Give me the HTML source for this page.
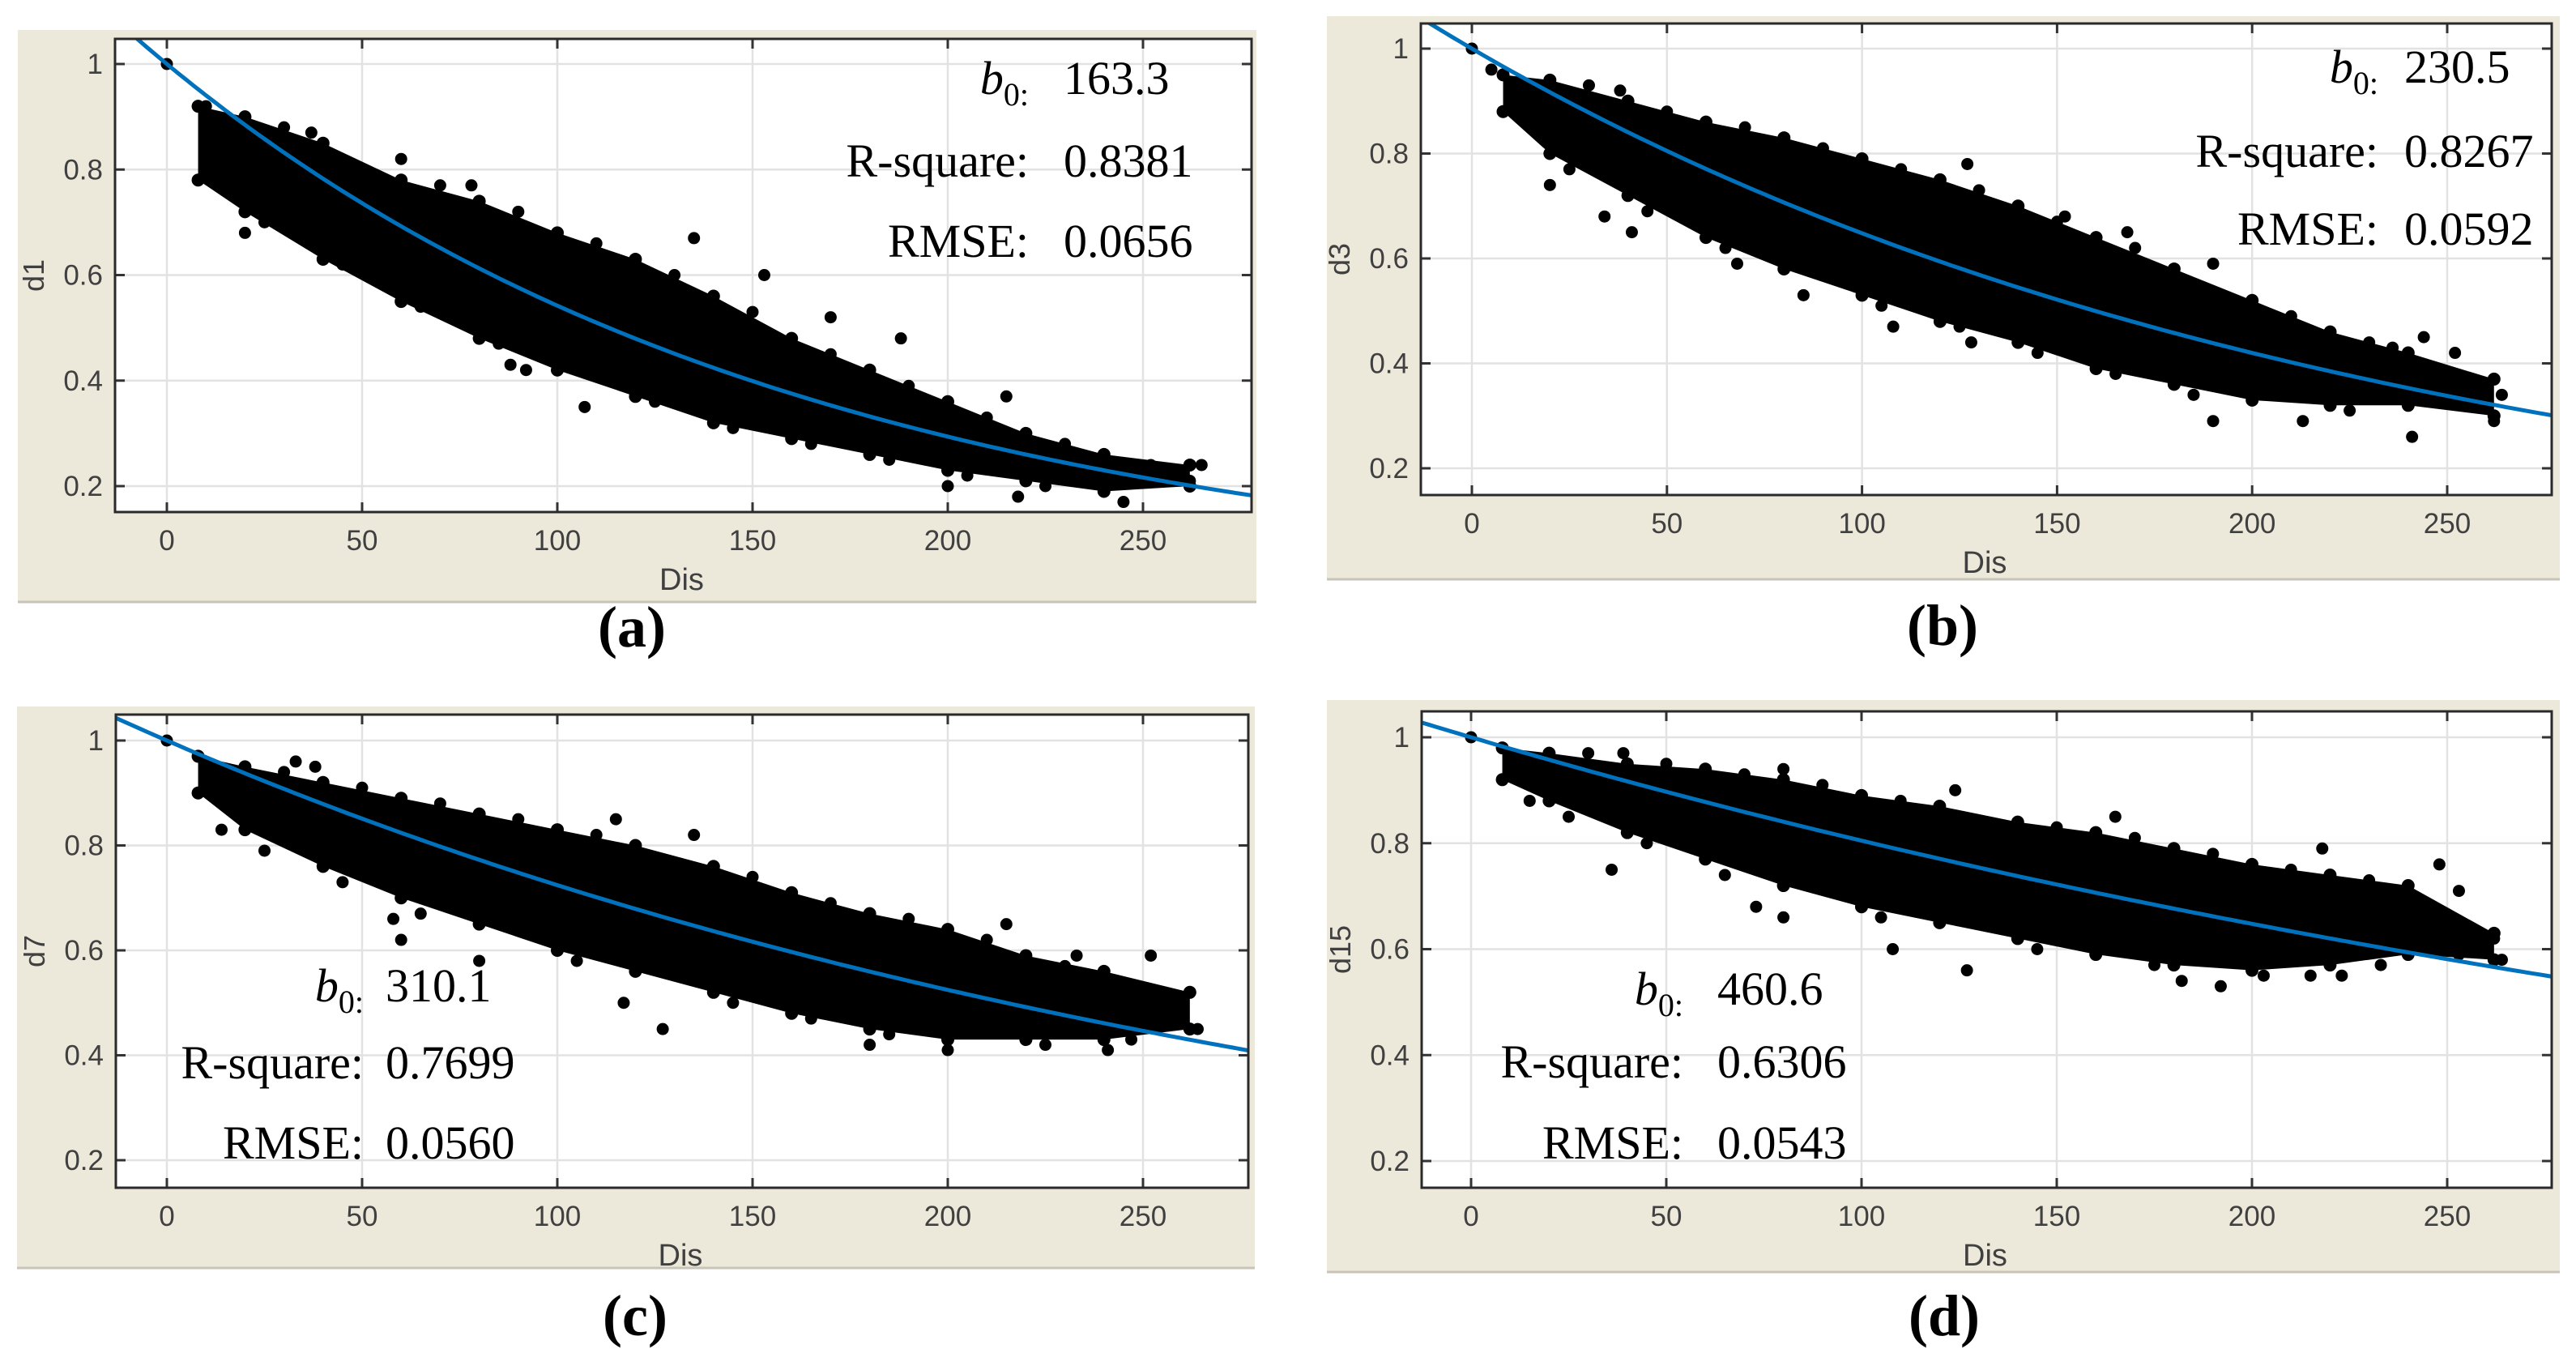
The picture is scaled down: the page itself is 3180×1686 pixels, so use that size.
<!DOCTYPE html>
<html><head><meta charset="utf-8"><style>
html,body{margin:0;padding:0;background:#fff;}
svg{display:block;}
</style></head><body>
<svg id="fig" xmlns="http://www.w3.org/2000/svg" width="3180" height="1686" viewBox="0 0 3180 1686"></svg>
<script>
// ---- data ----
const xTicks = [0, 50, 100, 150, 200, 250];
const yTicks = [0.2, 0.4, 0.6, 0.8, 1];
const yTickLabels = ["0.2", "0.4", "0.6", "0.8", "1"];
const bandX = [8, 20, 40, 60, 80, 100, 120, 140, 160, 180, 200, 220, 240, 262];
const lowA = [0.78,0.72,0.63,0.55,0.48,0.42,0.37,0.32,0.29,0.26,0.23,0.21,0.19,0.20];
const upA  = [0.92,0.90,0.85,0.78,0.74,0.68,0.63,0.56,0.48,0.42,0.36,0.30,0.26,0.24];
const lowB = [0.88,0.80,0.72,0.64,0.58,0.53,0.48,0.44,0.39,0.36,0.33,0.32,0.32,0.30];
const upB  = [0.95,0.94,0.90,0.86,0.83,0.79,0.75,0.70,0.64,0.58,0.52,0.46,0.42,0.37];
const lowC = [0.90,0.83,0.76,0.70,0.65,0.60,0.56,0.52,0.48,0.45,0.43,0.43,0.43,0.45];
const upC  = [0.97,0.95,0.92,0.89,0.86,0.83,0.80,0.76,0.71,0.67,0.64,0.59,0.56,0.52];
const lowD = [0.92,0.88,0.82,0.77,0.72,0.68,0.65,0.62,0.59,0.57,0.56,0.57,0.59,0.58];
const upD  = [0.98,0.97,0.95,0.94,0.92,0.89,0.87,0.84,0.82,0.79,0.76,0.74,0.72,0.63];
const outXA = [0,10,12,20,37,60,78,88,92,107,135,153,170,188,200,218,245,252,262,265,215,30,50,70,90,110,130,150,170,190,210,230,25,45,65,85,125,145,165,185,205,225];
const outYA = [1,0.92,0.85,0.68,0.87,0.82,0.77,0.43,0.42,0.35,0.67,0.60,0.52,0.48,0.20,0.18,0.17,0.24,0.21,0.24,0.37,0.88,0.80,0.77,0.72,0.66,0.60,0.53,0.45,0.39,0.33,0.28,0.70,0.62,0.54,0.47,0.36,0.31,0.28,0.25,0.22,0.20];
const outXB = [0,5,20,34,38,41,68,85,108,128,127,152,168,190,213,241,244,252,262,264,236,190,30,50,70,90,110,130,150,170,210,230,25,45,65,105,125,145,165,185,225];
const outYB = [1,0.96,0.74,0.68,0.92,0.65,0.59,0.53,0.47,0.44,0.78,0.68,0.65,0.29,0.29,0.26,0.45,0.42,0.29,0.34,0.43,0.59,0.93,0.88,0.85,0.81,0.77,0.73,0.67,0.62,0.49,0.44,0.77,0.69,0.62,0.51,0.47,0.42,0.38,0.34,0.31];
const outXC = [0,8,14,33,38,58,60,80,115,117,127,135,180,200,215,233,241,252,262,264,247,30,50,70,90,110,150,170,190,210,230,25,45,65,105,145,165,185,225];
const outYC = [1,0.97,0.83,0.96,0.95,0.66,0.62,0.58,0.85,0.50,0.45,0.82,0.42,0.41,0.65,0.59,0.41,0.59,0.52,0.45,0.43,0.94,0.91,0.88,0.85,0.82,0.74,0.69,0.66,0.62,0.57,0.79,0.73,0.67,0.58,0.50,0.47,0.44,0.42];
const outXD = [0,8,15,36,39,73,80,80,108,124,127,165,182,192,203,218,223,233,248,253,253,262,264,30,50,70,90,110,150,170,190,210,230,25,45,65,105,145,175,215,245];
const outYD = [1,0.92,0.88,0.75,0.97,0.68,0.66,0.94,0.60,0.90,0.56,0.85,0.54,0.53,0.55,0.79,0.55,0.57,0.76,0.71,0.59,0.62,0.58,0.97,0.95,0.93,0.91,0.88,0.83,0.81,0.78,0.75,0.73,0.85,0.80,0.74,0.66,0.60,0.57,0.55,0.60];
const b0Values = [163.3, 230.5, 310.1, 460.6];
const rsqLabels = ["0.8381", "0.8267", "0.7699", "0.6306"];
const rmseLabels = ["0.0656", "0.0592", "0.0560", "0.0543"];
const b0Labels = ["163.3", "230.5", "310.1", "460.6"];
const yNames = ["d1", "d3", "d7", "d15"];
const panelLetters = ["(a)", "(b)", "(c)", "(d)"];

// ---- layout ----
const panels = [
 {bg:[22,37,1551,744], L:142,R:1545,T:48,B:632, y1:79,y02:600, x0:206,x250:1411, low:lowA,up:upA,ox:outXA,oy:outYA, st:{rx:1270,vx:1313,ys:[116,218,317]}, lab:[780,798]},
 {bg:[1638,20,3160,716], L:1754,R:3150,T:29,B:611, y1:60,y02:578, x0:1817,x250:3021, low:lowB,up:upB,ox:outXB,oy:outYB, st:{rx:2936,vx:2968,ys:[102,206,302]}, lab:[2398,796]},
 {bg:[21,872,1549,1566], L:143,R:1541,T:882,B:1466, y1:914,y02:1432, x0:206,x250:1411, low:lowC,up:upC,ox:outXC,oy:outYC, st:{rx:449,vx:476,ys:[1236,1331,1430]}, lab:[784,1648]},
 {bg:[1638,864,3160,1571], L:1755,R:3150,T:878,B:1466, y1:910,y02:1433, x0:1816,x250:3021, low:lowD,up:upD,ox:outXD,oy:outYD, st:{rx:2078,vx:2120,ys:[1240,1330,1430]}, lab:[2400,1648]}
];
const NS = "http://www.w3.org/2000/svg";
const svg = document.getElementById("fig");
function mk(tag, attrs, parent){
  const e = document.createElementNS(NS, tag);
  for (const k in attrs) e.setAttribute(k, attrs[k]);
  (parent||svg).appendChild(e);
  return e;
}
panels.forEach((p, i) => {
  const sx = v => p.x0 + (v/250)*(p.x250 - p.x0);
  const sy = v => p.y1 + (1 - v)/0.8*(p.y02 - p.y1);
  const g = mk("g", {});
  
  
  const bg = mk("rect", {x:p.bg[0], y:p.bg[1], width:p.bg[2]-p.bg[0], height:p.bg[3]-p.bg[1], fill:"#ece8da"}, g);
  
  
  mk("line", {x1:p.bg[0], y1:p.bg[3]-1, x2:p.bg[2], y2:p.bg[3]-1, stroke:"#c8c4b8", "stroke-width":3}, g);
  const area = mk("rect", {x:p.L, y:p.T, width:p.R-p.L, height:p.B-p.T, fill:"#fff"}, g);
  
  
  const cid = "clip" + i;
  const cp = mk("clipPath", {id:cid}, g);
  mk("rect", {x:p.L, y:p.T, width:p.R-p.L, height:p.B-p.T}, cp);
  xTicks.forEach(t => {
    const x = sx(t);
    const gl = mk("line", {x1:x, y1:p.T, x2:x, y2:p.B, stroke:"#e2e2e2", "stroke-width":2.5}, g);
    
    
    mk("line", {x1:x, y1:p.B, x2:x, y2:p.B-12, stroke:"#333", "stroke-width":3}, g);
    mk("line", {x1:x, y1:p.T, x2:x, y2:p.T+12, stroke:"#333", "stroke-width":3}, g);
    const tl = mk("text", {x:x, y:p.B+47, "text-anchor":"middle", "font-family":"Liberation Sans, sans-serif", "font-size":35, fill:"#404040"}, g);
    tl.textContent = t;
    
    
  });
  yTicks.forEach((t, k) => {
    const y = sy(t);
    const gl = mk("line", {x1:p.L, y1:y, x2:p.R, y2:y, stroke:"#e2e2e2", "stroke-width":2.5}, g);
    
    
    mk("line", {x1:p.L, y1:y, x2:p.L+12, y2:y, stroke:"#333", "stroke-width":3}, g);
    mk("line", {x1:p.R, y1:y, x2:p.R-12, y2:y, stroke:"#333", "stroke-width":3}, g);
    const tl = mk("text", {x:p.L-15, y:y+12, "text-anchor":"end", "font-family":"Liberation Sans, sans-serif", "font-size":35, fill:"#404040"}, g);
    tl.textContent = yTickLabels[k];
    
    
  });
  const dg = mk("g", {"clip-path":"url(#"+cid+")"}, g);
  
  
  let pts = [];
  bandX.forEach((x, k) => pts.push(sx(x)+","+sy(p.up[k])));
  for (let k = bandX.length-1; k >= 0; k--) pts.push(sx(bandX[k])+","+sy(p.low[k]));
  const band = mk("polygon", {points:pts.join(" "), fill:"#000"}, dg);
  
  
  bandX.forEach((x, k) => {
    [p.up[k], p.low[k]].forEach(v => {
      const c = mk("circle", {cx:sx(x), cy:sy(v), r:8, fill:"#000"}, dg);
      
      
    });
  });
  p.ox.forEach((x, k) => {
    const c = mk("circle", {cx:sx(x), cy:sy(p.oy[k]), r:7.5, fill:"#000"}, dg);
    
    
  });
  const b0 = b0Values[i];
  let d = "";
  for (let x = -15; x <= 280; x += 2) d += (d ? "L" : "M") + sx(x).toFixed(1) + "," + sy(Math.exp(-x/b0)).toFixed(1);
  const fc = mk("path", {d:d, fill:"none", stroke:"#0072bd", "stroke-width":5, "clip-path":"url(#"+cid+")"}, g);
  
  
  const box = mk("rect", {x:p.L, y:p.T, width:p.R-p.L, height:p.B-p.T, fill:"none", stroke:"#2a2a2a", "stroke-width":3}, g);
  
  
  const xt = mk("text", {x:(p.L+p.R)/2 - 2, y:p.B+96, "text-anchor":"middle", "font-family":"Liberation Sans, sans-serif", "font-size":38, fill:"#404040"}, g);
  xt.textContent = "Dis";
  
  
  const ycx = p.L - 88, ycy = (p.T+p.B)/2;
  const yt = mk("text", {x:ycx, y:ycy, transform:"rotate(-90 "+ycx+" "+ycy+")", "text-anchor":"middle", "font-family":"Liberation Sans, sans-serif", "font-size":36, fill:"#404040"}, g);
  yt.textContent = yNames[i];
  
  
  const sf = "Liberation Serif, serif";
  const l1 = mk("text", {x:p.st.rx, y:p.st.ys[0], "text-anchor":"end", "font-family":sf, "font-size":58, fill:"#000"}, g);
  l1.innerHTML = '<tspan font-style="italic">b</tspan><tspan font-size="40" dy="14">0:</tspan>';
  
  
  const labs = [null, "R-square:", "RMSE:"];
  const vals = [b0Labels[i], rsqLabels[i], rmseLabels[i]];
  const names = ["b0", "r-square", "rmse"];
  for (let k = 0; k < 3; k++) {
    if (labs[k]) {
      const lt = mk("text", {x:p.st.rx, y:p.st.ys[k], "text-anchor":"end", "font-family":sf, "font-size":58, fill:"#000"}, g);
      lt.textContent = labs[k];
      
      
    }
    const vt = mk("text", {x:p.st.vx, y:p.st.ys[k], "font-family":sf, "font-size":58, fill:"#000"}, g);
    vt.textContent = vals[k];
    
    
  }
  const pl = mk("text", {x:p.lab[0], y:p.lab[1], "text-anchor":"middle", "font-family":sf, "font-size":72, "font-weight":"bold", fill:"#000"}, svg);
  pl.textContent = panelLetters[i];
  
  
});
</script>
</body></html>
